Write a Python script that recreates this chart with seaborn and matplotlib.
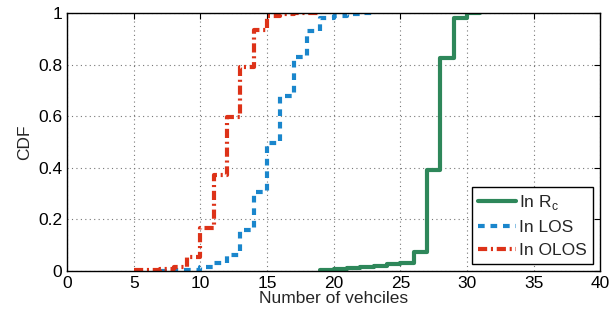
import matplotlib
matplotlib.use("Agg")
import matplotlib.pyplot as plt
import seaborn as sns
import pandas as pd

# step positions (number of vehicles) and CDF values
rc_x = [19, 20, 21, 22, 23, 24, 25, 26, 27, 28, 29, 30, 31]
rc_cdf = [0.002, 0.006, 0.01, 0.015, 0.02, 0.025, 0.03, 0.074, 0.39, 0.825, 0.98, 1.0, 1.0]

los_x = [7, 8, 9, 10, 11, 12, 13, 14, 15, 16, 17, 18, 19, 20, 21, 22, 23]
los_cdf = [0.0, 0.002, 0.005, 0.016, 0.03, 0.062, 0.16, 0.306, 0.496, 0.68, 0.83, 0.93,
           0.98, 0.99, 0.997, 1.0, 1.0]

olos_x = [5, 6, 7, 8, 9, 10, 11, 12, 13, 14, 15, 16, 17, 18, 19]
olos_cdf = [0.003, 0.005, 0.008, 0.015, 0.054, 0.167, 0.372, 0.597, 0.79, 0.934, 0.99,
            0.997, 1.0, 1.0, 1.0]

labels = ["In R$_\\mathrm{c}$", "In LOS", "In OLOS"]
colors = ["#2e875a", "#1a86cc", "#dd3218"]

sns.set_style("white")
plt.rcParams["font.family"] = ["Liberation Sans", "DejaVu Sans"]
plt.rcParams["mathtext.fontset"] = "custom"
plt.rcParams["mathtext.rm"] = "Liberation Sans"

fig = plt.figure(figsize=(6.1, 3.18), dpi=100)
ax = fig.add_axes([0.11, 0.148, 0.874, 0.811])

df_rc = pd.DataFrame({"x": rc_x, "cdf": rc_cdf})
df_los = pd.DataFrame({"x": los_x, "cdf": los_cdf})
df_olos = pd.DataFrame({"x": olos_x, "cdf": olos_cdf})

sns.lineplot(data=df_rc, x="x", y="cdf", ax=ax, color=colors[0], lw=3,
             drawstyle="steps-post", label=labels[0])
sns.lineplot(data=df_los, x="x", y="cdf", ax=ax, color=colors[1], lw=3,
             drawstyle="steps-post", dashes=False, label=labels[1],
             linestyle=(0, (1.6, 1.4)))
sns.lineplot(data=df_olos, x="x", y="cdf", ax=ax, color=colors[2], lw=3,
             drawstyle="steps-post", dashes=False, label=labels[2],
             linestyle=(0, (2.2, 0.9, 0.5, 0.9)))

ax.set_xlim(0, 40)
ax.set_ylim(0, 1)
ax.set_xticks(range(0, 41, 5))
ax.set_yticks([0, 0.2, 0.4, 0.6, 0.8, 1])
ax.set_yticklabels(["0", "0.2", "0.4", "0.6", "0.8", "1"])
ax.grid(True, linestyle=(0, (1, 3)), color="#777777", linewidth=0.8)
ax.tick_params(direction="in", length=4, width=0.8, labelsize=12.5,
               top=True, right=True, colors="black")
for s in ax.spines.values():
    s.set_visible(True)
    s.set_color("black")
    s.set_linewidth(1.0)

ax.set_xlabel("Number of vehciles", fontsize=12.5, labelpad=0)
ax.set_ylabel("CDF", fontsize=12.5, labelpad=4)

leg = ax.legend(loc="lower right", fontsize=12.5, frameon=True, fancybox=False,
                edgecolor="black", framealpha=1, handlelength=2.2,
                handletextpad=0.2, labelspacing=0.45, borderpad=0.35,
                borderaxespad=0.4)
leg.get_frame().set_linewidth(1.0)

fig.savefig("out.png", dpi=100)
